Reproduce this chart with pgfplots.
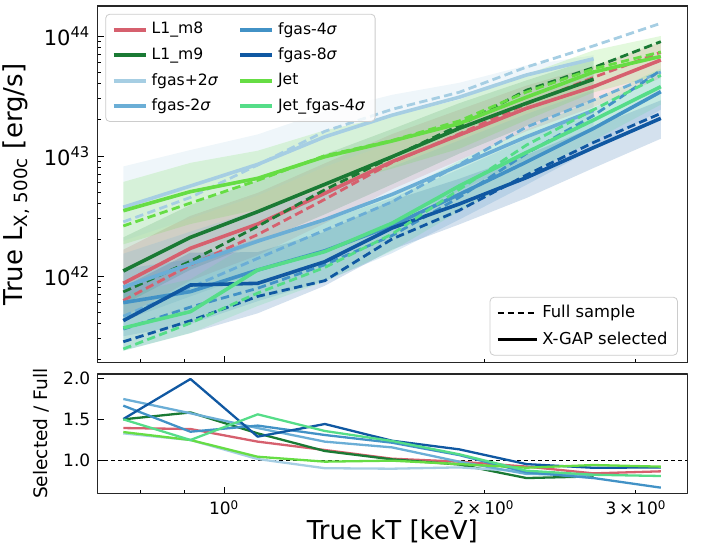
\documentclass[border=0pt]{standalone}
\usepackage{fontspec}
\setmainfont{DejaVu Sans}
\usepackage{pgfplots}
\pgfplotsset{compat=1.18}
\usepackage{pgfplotstable}
\usepgfplotslibrary{fillbetween}

\definecolor{cLa}{RGB}{214,96,110}
\definecolor{cLb}{RGB}{26,122,52}
\definecolor{cFp}{RGB}{166,206,227}
\definecolor{cFa}{RGB}{107,174,214}
\definecolor{cFb}{RGB}{66,146,198}
\definecolor{cFc}{RGB}{16,88,162}
\definecolor{cJ}{RGB}{102,221,68}
\definecolor{cJF}{RGB}{85,221,136}

% columns: x = log10(kT), s = log10 L selected, d = log10 L full, lo/hi = band, r = ratio
\pgfplotstableread{
x s d lo hi r
-0.1169 41.939 41.796 41.659 42.219 1.390
-0.0391 42.231 42.092 41.961 42.501 1.378
0.0388 42.433 42.345 42.173 42.693 1.224
0.1166 42.689 42.639 42.439 42.939 1.122
0.1945 42.953 42.946 42.723 43.183 1.016
0.2723 43.175 43.184 42.965 43.385 0.980
0.3502 43.397 43.433 43.207 43.587 0.920
0.4280 43.578 43.655 43.408 43.748 0.837
0.5059 43.800 43.865 43.650 43.950 0.862
}\tLa
\pgfplotstableread{
x s d lo hi r
-0.1169 42.042 41.867 41.762 42.322 1.496
-0.0391 42.322 42.123 42.052 42.592 1.580
0.0388 42.536 42.414 42.276 42.796 1.325
0.1166 42.764 42.719 42.514 43.014 1.110
0.1945 42.994 42.991 42.764 43.224 1.008
0.2723 43.230 43.255 43.020 43.440 0.945
0.3502 43.440 43.548 43.250 43.630 0.780
0.4280 43.640 43.737 43.470 43.810 0.800
0.5059 nan 43.953 nan nan nan
}\tLb
\pgfplotstableread{
x s d lo hi r
-0.1169 42.573 42.451 42.293 42.913 1.325
-0.0391 42.750 42.655 42.480 43.050 1.244
0.0388 42.930 42.925 42.670 43.180 1.012
0.1166 43.160 43.206 42.910 43.370 0.900
0.1945 43.340 43.389 43.110 43.510 0.894
0.2723 43.490 43.531 43.280 43.610 0.910
0.3502 43.675 43.741 43.485 43.755 0.860
0.4280 43.810 43.918 43.640 43.840 0.780
0.5059 nan 44.106 nan nan nan
}\tFp
\pgfplotstableread{
x s d lo hi r
-0.1169 41.906 41.665 41.626 42.186 1.744
-0.0391 42.100 41.904 41.830 42.370 1.570
0.0388 42.290 42.147 42.030 42.550 1.390
0.1166 42.470 42.382 42.220 42.720 1.224
0.1945 42.680 42.618 42.450 42.910 1.154
0.2723 42.920 42.929 42.710 43.130 0.980
0.3502 43.160 43.241 42.970 43.350 0.830
0.4280 43.380 43.466 43.210 43.550 0.820
0.5059 nan 43.700 nan nan nan
}\tFa
\pgfplotstableread{
x s d lo hi r
-0.1169 41.778 41.557 41.498 42.058 1.663
-0.0391 41.870 41.741 41.600 42.140 1.345
0.0388 42.050 41.898 41.790 42.310 1.420
0.1166 42.210 42.094 41.960 42.460 1.305
0.1945 42.420 42.337 42.190 42.650 1.211
0.2723 42.680 42.655 42.470 42.890 1.060
0.3502 42.950 43.021 42.760 43.140 0.850
0.4280 43.230 43.338 43.060 43.400 0.780
0.5059 43.536 43.714 43.386 43.686 0.663
}\tFb
\pgfplotstableread{
x s d lo hi r
-0.1169 41.628 41.452 41.378 41.908 1.500
-0.0391 41.925 41.627 41.525 42.195 1.988
0.0388 41.939 41.830 41.689 42.199 1.285
0.1166 42.119 41.961 41.919 42.369 1.439
0.1945 42.400 42.308 42.220 42.630 1.235
0.2723 42.600 42.547 42.430 42.810 1.130
0.3502 42.820 42.842 42.650 43.010 0.950
0.4280 43.070 43.113 42.900 43.240 0.905
0.5059 43.314 43.355 43.144 43.464 0.910
}\tFc
\pgfplotstableread{
x s d lo hi r
-0.1169 42.544 42.417 42.264 42.784 1.341
-0.0391 42.703 42.608 42.433 42.943 1.244
0.0388 42.814 42.797 42.554 43.044 1.040
0.1166 42.994 43.003 42.744 43.214 0.980
0.1945 43.125 43.129 42.895 43.335 0.992
0.2723 43.270 43.292 43.060 43.470 0.950
0.3502 43.490 43.533 43.300 43.680 0.906
0.4280 43.700 43.727 43.530 43.880 0.939
0.5059 43.830 43.867 43.680 44.000 0.919
}\tJ
\pgfplotstableread{
x s d lo hi r
-0.1169 41.567 41.392 41.377 41.847 1.496
-0.0391 41.703 41.608 41.523 41.973 1.244
0.0388 42.050 41.858 41.750 42.310 1.557
0.1166 42.203 42.071 41.953 42.453 1.354
0.1945 42.440 42.349 42.210 42.670 1.232
0.2723 42.750 42.721 42.540 42.960 1.070
0.3502 43.030 43.091 42.840 43.220 0.870
0.4280 43.300 43.386 43.130 43.470 0.820
0.5059 43.578 43.672 43.428 43.728 0.805
}\tJF

\newcommand{\drawseries}[2]{%
  \addplot[draw=none, name path=#2hi, forget plot] table[x=x,y=hi]{#1};
  \addplot[draw=none, name path=#2lo, forget plot] table[x=x,y=lo]{#1};
  \addplot[#2, fill opacity=0.18, draw=none, forget plot] fill between[of=#2hi and #2lo];
  \addplot[#2, line width=1.4pt, dash pattern=on 4.2pt off 2.2pt, forget plot] table[x=x,y=d]{#1};
  \addplot[#2, line width=1.8pt, forget plot] table[x=x,y=s]{#1};
}

\pgfplotsset{
  base/.style={
    scale only axis, width=295pt,
    xmin=-0.14703, xmax=0.53658,
    tick pos=left, tick align=inside,
    axis line style={black!85, line width=0.6pt},
    major tick length=3.2pt, minor tick length=1.8pt,
    every tick/.style={black, line width=0.5pt},
    line join=round,
  },
}

\begin{document}
\begin{tikzpicture}
\begin{axis}[base,
  at={(0,0)}, height=178.35pt,
  ymin=41.2775, ymax=44.25,
  xtick={0}, xticklabels={}, minor xtick={-0.09691,-0.04576,0.30103,0.47712},
  ytick={42,43,44},
  yticklabels={10\textsuperscript{42},10\textsuperscript{43},10\textsuperscript{44}},
  minor ytick={41.301,41.477,41.602,41.699,41.778,41.845,41.903,41.954,
               42.301,42.477,42.602,42.699,42.778,42.845,42.903,42.954,
               43.301,43.477,43.602,43.699,43.778,43.845,43.903,43.954},
  yticklabel style={font=\fontsize{10.5}{12}\selectfont},
  ylabel={True L\textsubscript{X, 500c} [erg/s]},
  ylabel style={font=\fontsize{13}{15}\selectfont},
  legend columns=2, legend cell align=left,
  legend image code/.code={\draw[#1] (0pt,0pt) -- (16pt,0pt);},
  legend style={at={(0.0136,0.978)}, anchor=north west,
    draw=black!20, rounded corners=2pt, fill=white, fill opacity=0.8, text opacity=1,
    font=\fontsize{7.8}{9}\selectfont, inner xsep=3pt, inner ysep=2pt, row sep=1.3pt,
    /tikz/every even column/.append style={column sep=8pt}},
]
\drawseries{\tLa}{cLa}
\drawseries{\tLb}{cLb}
\drawseries{\tFp}{cFp}
\drawseries{\tFa}{cFa}
\drawseries{\tFb}{cFb}
\drawseries{\tFc}{cFc}
\drawseries{\tJ}{cJ}
\drawseries{\tJF}{cJF}
\addlegendimage{cLa, line width=2pt}\addlegendentry{L1\_m8}
\addlegendimage{cFb, line width=2pt}\addlegendentry{fgas-4\textit{σ}}
\addlegendimage{cLb, line width=2pt}\addlegendentry{L1\_m9}
\addlegendimage{cFc, line width=2pt}\addlegendentry{fgas-8\textit{σ}}
\addlegendimage{cFp, line width=2pt}\addlegendentry{fgas+2\textit{σ}}
\addlegendimage{cJ, line width=2pt}\addlegendentry{Jet}
\addlegendimage{cFa, line width=2pt}\addlegendentry{fgas-2\textit{σ}}
\addlegendimage{cJF, line width=2pt}\addlegendentry{Jet\_fgas-4\textit{σ}}
\end{axis}

\begin{axis}[at={(0,0)}, scale only axis, width=295pt, height=178.35pt, hide axis,
  xmin=0, xmax=1, ymin=0, ymax=1,
  legend image code/.code={\draw[#1] (0pt,0pt) -- (19.5pt,0pt);},
  legend cell align=left,
  legend style={at={(0.984,0.02)}, anchor=south east,
    draw=black!20, rounded corners=2pt, fill=white, fill opacity=0.8, text opacity=1,
    font=\fontsize{8.2}{10}\selectfont, inner xsep=3pt, inner ysep=2pt, row sep=1.5pt},
]
\addlegendimage{black, line width=0.8pt, dash pattern=on 3pt off 2pt}
\addlegendentry{Full sample}
\addlegendimage{black, line width=1.6pt}
\addlegendentry{X-GAP selected}
\end{axis}

\begin{axis}[base,
  at={(0,-65.3pt)}, height=59.65pt,
  ymin=0.594, ymax=2.049,
  xtick={0}, xticklabels={10\textsuperscript{0}},
  extra x ticks={0.30103,0.47712},
  extra x tick labels={2\,×\,10\textsuperscript{0},3\,×\,10\textsuperscript{0}},
  extra x tick style={major tick length=1.8pt},
  minor xtick={-0.09691,-0.04576},
  ytick={1,1.5,2}, yticklabels={1.0,1.5,2.0},
  ticklabel style={font=\fontsize{8.5}{10}\selectfont},
  xlabel={True kT [keV]},
  xlabel style={font=\fontsize{13}{15}\selectfont, yshift=4.5pt},
  ylabel={Selected / Full},
  ylabel style={font=\fontsize{9.3}{11}\selectfont},
]
\addplot[black, line width=0.5pt, dash pattern=on 2pt off 1.5pt, forget plot] coordinates {(-0.14703,1) (0.53658,1)};
\addplot[cLa, line width=1.15pt] table[x=x,y=r]{\tLa};
\addplot[cLb, line width=1.15pt] table[x=x,y=r]{\tLb};
\addplot[cFp, line width=1.15pt] table[x=x,y=r]{\tFp};
\addplot[cFa, line width=1.15pt] table[x=x,y=r]{\tFa};
\addplot[cFb, line width=1.15pt] table[x=x,y=r]{\tFb};
\addplot[cFc, line width=1.15pt] table[x=x,y=r]{\tFc};
\addplot[cJ, line width=1.15pt] table[x=x,y=r]{\tJ};
\addplot[cJF, line width=1.15pt] table[x=x,y=r]{\tJF};
\end{axis}

\pgfresetboundingbox
\path (-48.65pt,-92.15pt) rectangle (302.35pt,181.35pt);
\end{tikzpicture}
\end{document}
